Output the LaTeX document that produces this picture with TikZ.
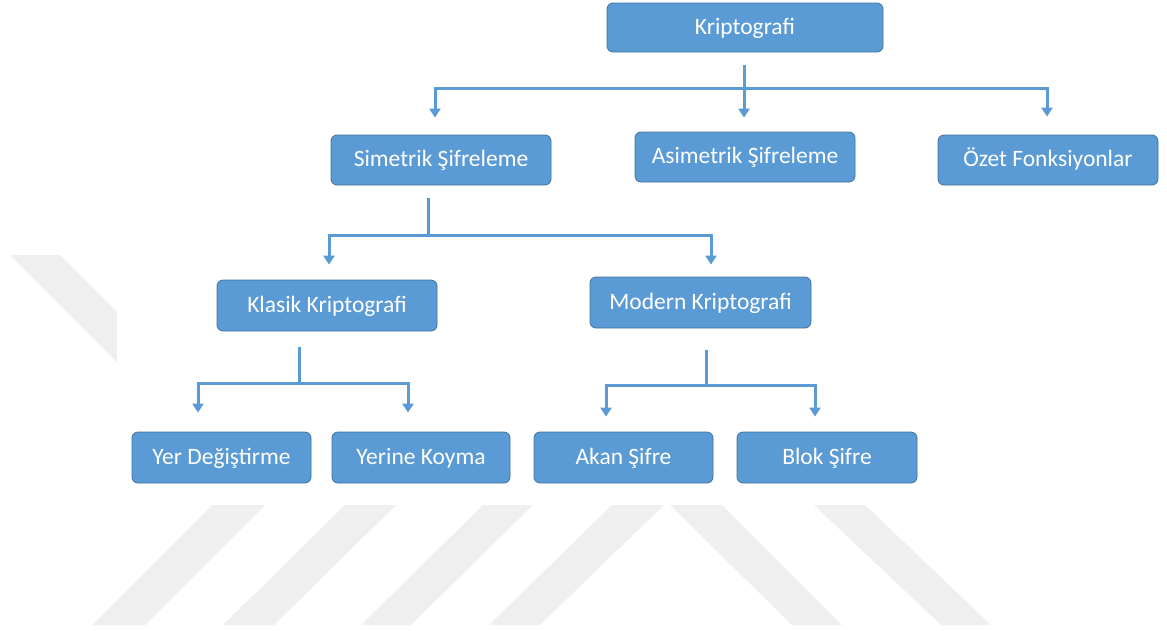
\documentclass[tikz,border=0pt]{standalone}
\usepackage{fontspec}
\setmainfont{Carlito}
\usetikzlibrary{arrows.meta}
\definecolor{boxfill}{HTML}{5B9BD5}
\definecolor{boxline}{HTML}{41719C}
\definecolor{wm}{HTML}{EFEFEF}
\tikzset{
  box/.style={draw=boxline, line width=0.8pt, fill=boxfill, rounded corners=6pt,
    text=white, font=\fontsize{23.5}{28}\selectfont, inner sep=0pt, anchor=center,
    text height=16pt, text depth=3pt},
  conn/.style={draw=boxfill, line width=3pt, line join=miter},
  arr/.style={conn, -{Triangle[width=11pt,length=9pt]}},
  wmark/.style={fill=wm, draw=none}
}
\begin{document}
\begin{tikzpicture}[x=1pt, y=-1pt]
\useasboundingbox (0,0) rectangle (1167,630);
% watermark fragments
\fill[wmark] (10,255) -- (60,255) -- (117,312) -- (117,362) -- cycle;
\fill[wmark] (212,505) -- (265,505) -- (145,625) -- (92,625) -- cycle;
\fill[wmark] (345,505) -- (396,505) -- (274,625) -- (223,625) -- cycle;
\fill[wmark] (483,505) -- (533,505) -- (411,625) -- (361,625) -- cycle;
\fill[wmark] (612,505) -- (664,505) -- (540,625) -- (489,625) -- cycle;
\fill[wmark] (670,505) -- (722,505) -- (842,625) -- (792,625) -- cycle;
\fill[wmark] (814,505) -- (865,505) -- (991,625) -- (941,625) -- cycle;

% nodes
\node[box, minimum width=276pt, minimum height=49pt] (kripto) at (745,27.5) {Kriptografi};
\node[box, minimum width=220pt, minimum height=50pt] (sim) at (441,160) {Simetrik Şifreleme};
\node[box, minimum width=220pt, minimum height=50pt] (asim) at (745,157) {Asimetrik Şifreleme};
\node[box, minimum width=220pt, minimum height=50pt] (ozet) at (1048,160) {Özet Fonksiyonlar};
\node[box, minimum width=220pt, minimum height=51pt] (klasik) at (327,305.5) {Klasik Kriptografi};
\node[box, minimum width=221pt, minimum height=51pt] (modern) at (700.5,302.5) {Modern Kriptografi};
\node[box, minimum width=179pt, minimum height=51pt] (yer) at (221.5,457.5) {Yer Değiştirme};
\node[box, minimum width=178pt, minimum height=51pt] (yerine) at (421,457.5) {Yerine Koyma};
\node[box, minimum width=179pt, minimum height=51pt] (akan) at (623.5,457.5) {Akan Şifre};
\node[box, minimum width=180pt, minimum height=51pt] (blok) at (827,457.5) {Blok Şifre};

% bus levels
\coordinate (b1) at (0,88);
\coordinate (b2) at (0,235);
\coordinate (b3) at (0,383);
\coordinate (b4) at (0,385);

% level 1
\draw[conn] ([xshift=-1pt,yshift=-13pt]kripto.south) -- ([xshift=-1pt]kripto.south |- b1);
\draw[arr] ([xshift=-1pt]kripto.south |- b1) -- ([xshift=-1pt,yshift=14pt]asim.north);
\draw[arr] ([xshift=-1pt]kripto.south |- b1) -| ([xshift=-6pt,yshift=17pt]sim.north);
\draw[arr] ([xshift=-1pt]kripto.south |- b1) -| ([xshift=-1pt,yshift=18pt]ozet.north);

% level 2
\draw[conn] ([xshift=-13pt,yshift=-13pt]sim.south) -- ([xshift=-13pt]sim.south |- b2);
\draw[arr] ([xshift=-13pt]sim.south |- b2) -| ([xshift=2pt,yshift=15pt]klasik.north);
\draw[arr] ([xshift=-13pt]sim.south |- b2) -| ([xshift=10.5pt,yshift=12pt]modern.north);

% level 3 left
\draw[conn] ([xshift=-28pt,yshift=-16pt]klasik.south) -- ([xshift=-28pt]klasik.south |- b3);
\draw[arr] ([xshift=-28pt]klasik.south |- b3) -| ([xshift=-23.5pt,yshift=19pt]yer.north);
\draw[arr] ([xshift=-28pt]klasik.south |- b3) -| ([xshift=-13pt,yshift=19pt]yerine.north);

% level 3 right
\draw[conn] ([xshift=5.5pt,yshift=-22pt]modern.south) -- ([xshift=5.5pt]modern.south |- b4);
\draw[arr] ([xshift=5.5pt]modern.south |- b4) -| ([xshift=-17.5pt,yshift=15pt]akan.north);
\draw[arr] ([xshift=5.5pt]modern.south |- b4) -| ([xshift=-12pt,yshift=15pt]blok.north);
\end{tikzpicture}
\end{document}
